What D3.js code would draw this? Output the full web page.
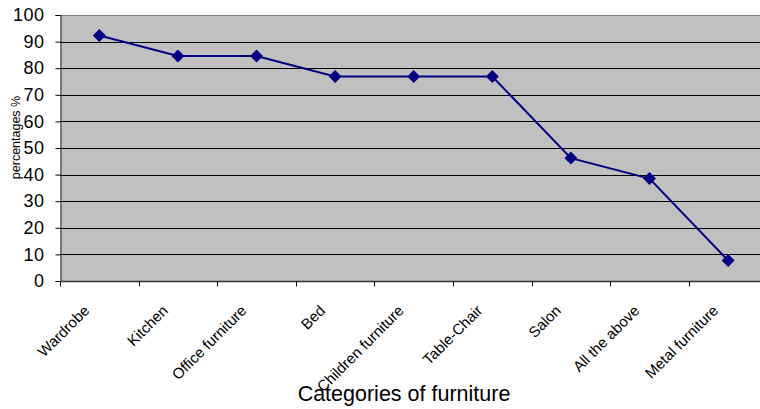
<!DOCTYPE html>
<html>
<head>
<meta charset="utf-8">
<script src="https://cdn.jsdelivr.net/npm/d3@7"></script>
<style>
  html, body { margin: 0; padding: 0; background: #fff; }
  svg { display: block; font-family: "Liberation Sans", Arial, sans-serif; }
</style>
</head>
<body>
<svg id="chart" width="760" height="409"></svg>
<script>
// Share of respondents per furniture category (%)
const categories = ["Wardrobe", "Kitchen", "Office furniture", "Bed", "Children furniture",
                    "Table-Chair", "Salon", "All the above", "Metal furniture"];
const percentages = [92.3, 84.6, 84.6, 76.9, 76.9, 76.9, 46.2, 38.5, 7.7];
const yTicks = [0, 10, 20, 30, 40, 50, 60, 70, 80, 90, 100];

const FONT = "Liberation Sans, Arial, sans-serif";
const svg = d3.select("#chart");
const margin = { left: 60, top: 15, bottom: 281 };
const bandW = 78.6;
const right = margin.left + bandW * categories.length;

const x = d3.scaleBand().domain(categories).range([margin.left, right]).padding(0);
const y = d3.scaleLinear().domain([0, 100]).range([margin.bottom, margin.top]);

// plot area
svg.append("rect")
  .attr("x", margin.left).attr("y", margin.top)
  .attr("width", right - margin.left).attr("height", margin.bottom - margin.top)
  .attr("fill", "#c0c0c0");

// horizontal gridlines
svg.append("g").selectAll("line").data(yTicks.filter(t => t > 0)).join("line")
  .attr("x1", margin.left).attr("x2", right)
  .attr("y1", d => Math.round(y(d)) + 0.5).attr("y2", d => Math.round(y(d)) + 0.5)
  .attr("stroke", d => d === 100 ? "#808080" : "#000")
  .attr("stroke-width", 1);

// y axis
const yAxis = svg.append("g")
  .attr("transform", `translate(${margin.left + 0.5},0)`)
  .call(d3.axisLeft(y).tickValues(yTicks).tickSize(5).tickPadding(11));
yAxis.select(".domain").attr("stroke", "#333");
yAxis.selectAll(".tick line").attr("stroke", "#000");
yAxis.selectAll("text").attr("font-size", 18).attr("fill", "#000")
  .attr("letter-spacing", 0.5)
  .attr("font-family", FONT);

// x axis with ticks at category boundaries
const xAxisG = svg.append("g").attr("transform", `translate(0,${margin.bottom + 0.5})`);
xAxisG.append("line").attr("x1", margin.left).attr("x2", right)
  .attr("stroke", "#333").attr("stroke-width", 1.5);
xAxisG.selectAll("line.tk").data(d3.range(categories.length + 1)).join("line")
  .attr("class", "tk")
  .attr("x1", i => Math.round(margin.left + i * bandW) + 0.5)
  .attr("x2", i => Math.round(margin.left + i * bandW) + 0.5)
  .attr("y1", 0).attr("y2", 5).attr("stroke", "#000");
xAxisG.selectAll("text").data(categories).join("text")
  .attr("transform", d => `translate(${x(d) + x.bandwidth() / 2 - 9},${30}) rotate(-45)`)
  .attr("text-anchor", "end")
  .attr("font-size", 15)
  .attr("fill", "#000")
  .text(d => d);

// data line
const cx = d => x(d) + x.bandwidth() / 2;
const line = d3.line().x((d, i) => cx(categories[i])).y(d => y(d));
svg.append("path").datum(percentages)
  .attr("d", line).attr("fill", "none")
  .attr("stroke", "#000080").attr("stroke-width", 2);

// diamond markers
svg.append("g").selectAll("path").data(percentages).join("path")
  .attr("transform", (d, i) => `translate(${cx(categories[i])},${y(d)})`)
  .attr("d", "M0,-6.5L6.5,0L0,6.5L-6.5,0Z")
  .attr("fill", "#000080");

// axis titles
svg.append("text")
  .attr("x", 404).attr("y", 401)
  .attr("text-anchor", "middle").attr("font-size", 21.5).attr("fill", "#000")
  .text("Categories of furniture");

svg.append("text")
  .attr("transform", "translate(20,137.5) rotate(-90)")
  .attr("text-anchor", "middle").attr("font-size", 12.5).attr("fill", "#000")
  .text("percentages %");
</script>
</body>
</html>
